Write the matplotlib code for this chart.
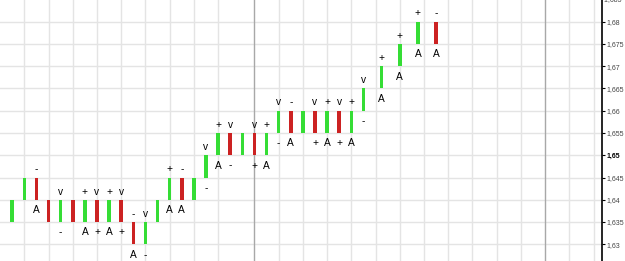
import matplotlib.pyplot as plt
from matplotlib.ticker import FixedLocator, FuncFormatter

# ── Data ──────────────────────────────────────────────────────────────────────

BOX = 0.005  # brick height

slots = list(range(30)) + [30.5, 32, 33.5, 35]
lows = [1.635, 1.640, 1.640, 1.635, 1.635, 1.635, 1.635, 1.635, 1.635, 1.635,
        1.630, 1.630, 1.635, 1.640, 1.640, 1.640, 1.645, 1.650, 1.650, 1.650,
        1.650, 1.650, 1.655, 1.655, 1.655, 1.655, 1.655, 1.655, 1.655, 1.660,
        1.665, 1.670, 1.675, 1.675]
direction = ["u", "u", "d", "d", "u", "d", "u", "d", "u", "d",
             "d", "u", "u", "u", "d", "u", "u", "u", "d", "u",
             "d", "u", "u", "d", "u", "d", "u", "d", "u", "u",
             "u", "u", "u", "d"]
top_marks = ["", "", "-", "", "v", "", "+", "v", "+", "v",
             "-", "v", "", "+", "-", "", "v", "+", "v", "",
             "v", "+", "v", "-", "", "v", "+", "v", "+", "v",
             "+", "+", "+", "-"]
bottom_marks = ["", "", "A", "", "-", "", "A", "+", "A", "+",
                "A", "-", "", "A", "A", "", "-", "A", "-", "",
                "+", "A", "-", "A", "", "+", "A", "+", "A", "-",
                "A", "A", "A", "A"]

y_ticks = [1.63, 1.635, 1.64, 1.645, 1.65, 1.655, 1.66, 1.665, 1.67, 1.675, 1.68]
grid_slots = [1, 3, 5, 7, 9, 11, 13, 15, 17, 22, 24, 26, 28, 30, 32, 34,
              36, 38, 40, 42, 46, 48]
session_slots = [20, 44]

GREEN = "#35dd35"
RED = "#cc2222"

# ── Plot ──────────────────────────────────────────────────────────────────────

fig = plt.figure(figsize=(6.25, 2.61), dpi=100)
ax = fig.add_axes([0, 0, 602 / 625, 1])

for s in grid_slots:
    ax.axvline(s, color="#e4e4e4", linewidth=1, zorder=0)
for s in session_slots:
    ax.axvline(s, color="#a8a8a8", linewidth=1, zorder=0.5)
for t in y_ticks:
    ax.axhline(t, color="#e4e4e4", linewidth=1, zorder=0)

colors = [GREEN if d == "u" else RED for d in direction]
ax.bar(slots, [BOX] * len(slots), bottom=lows, width=0.29,
       color=colors, linewidth=0, zorder=2)

lab_font = dict(family="Liberation Sans", fontsize=7.3, color="black",
                ha="center", va="baseline")
for s, lo, tm, bm in zip(slots, lows, top_marks, bottom_marks):
    if tm:
        ax.annotate(tm, (s, lo + BOX), xytext=(0, 3.8),
                    textcoords="offset points", **lab_font)
    if bm:
        ax.annotate(bm, (s, lo), xytext=(0, -9.6),
                    textcoords="offset points", **lab_font)

ax.set_xlim(-1.007, 48.70)
ax.set_ylim(1.62625, 1.684874)

for side in ["top", "left", "bottom"]:
    ax.spines[side].set_visible(False)
ax.spines["right"].set_linewidth(1.2)
ax.set_xticks([])

ax.yaxis.tick_right()
ax.yaxis.set_major_locator(FixedLocator(y_ticks))
ax.yaxis.set_major_formatter(
    FuncFormatter(lambda v, _: f"{v:.3f}".rstrip("0").replace(".", ",")))
ax.tick_params(axis="y", direction="out", length=2.5, width=0.8, pad=0.8,
               labelsize=5, labelcolor="#444444")
for lbl in ax.get_yticklabels():
    lbl.set_family("Liberation Sans")
    if lbl.get_text() == "1,65":
        lbl.set_fontweight("bold")
        lbl.set_color("black")

# partially visible label above the top edge
ax.text(1.0, 1.685, " 1,685", transform=ax.get_yaxis_transform(),
        fontsize=5, family="Liberation Sans", color="#444444",
        ha="left", va="center", clip_on=False)

fig.savefig("out.png", dpi=100)
plt.close()
